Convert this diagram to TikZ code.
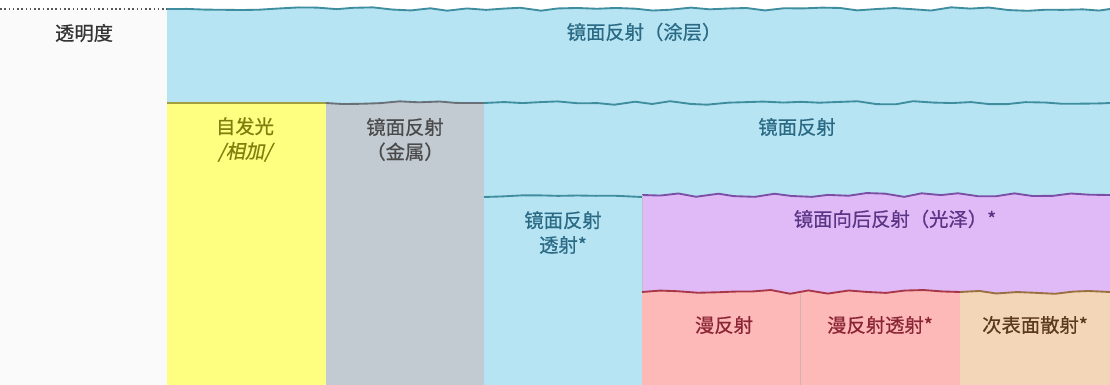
\documentclass[tikz,border=0pt]{standalone}
\usepackage{fontspec}
\setmainfont[FakeBold=0.6]{Noto Sans CJK SC}
\newfontfamily\slantcjk[FakeSlant=0.2,FakeBold=0.6]{Noto Sans CJK SC}
\usepackage{xcolor}
\usetikzlibrary{decorations.pathmorphing,positioning}

\definecolor{coatfill}{HTML}{B6E4F3}
\definecolor{coatline}{HTML}{3F8EA0}
\definecolor{coattext}{HTML}{2B6A85}
\definecolor{leftfill}{HTML}{FAFAFA}
\definecolor{emitfill}{HTML}{FEFE80}
\definecolor{emitline}{HTML}{A0A040}
\definecolor{emittext}{HTML}{7F7F10}
\definecolor{metalfill}{HTML}{C2CAD2}
\definecolor{metalline}{HTML}{6A7078}
\definecolor{metaltext}{HTML}{4A4A4A}
\definecolor{glossfill}{HTML}{DFBAF7}
\definecolor{glossline}{HTML}{7B4FA6}
\definecolor{glosstext}{HTML}{5B3585}
\definecolor{difffill}{HTML}{FDB8B8}
\definecolor{diffline}{HTML}{A83848}
\definecolor{difftext}{HTML}{8B2535}
\definecolor{sssfill}{HTML}{F3D5B7}
\definecolor{sssline}{HTML}{9A7040}
\definecolor{ssstext}{HTML}{5B3A1C}

\tikzset{
  wavedec/.style={decoration={random steps, segment length=14pt, amplitude=1.5pt}},
  txt/.style={font=\fontsize{14.5}{18.5}\selectfont, align=center, inner sep=0pt},
  sideline/.style={draw=black!25, line width=0.5pt}
}

% seed, fill, line colour, x left, x right, y top
\newcommand{\matband}[6]{%
  \pgfmathsetseed{#1}
  \fill[#2] (#4,385) -- (#4,#6) decorate[wavedec]{-- (#5,#6)} -- (#5,385) -- cycle;
  \pgfmathsetseed{#1}
  \draw[#3, line width=1.4pt, decorate, wavedec] (#4,#6) -- (#5,#6);
}

\begin{document}
\begin{tikzpicture}[x=0.75pt, y=-0.75pt]
  \useasboundingbox (0,0) rectangle (1110,385);

  \fill[leftfill] (0,9) rectangle (167,385);
  \draw[black!65, line width=1.2pt, dotted] (0,9) -- (167,9);

  \matband{11}{coatfill}{coatline}{167}{1110}{9}

  \fill[emitfill] (167,103) rectangle (326,385);
  \draw[emitline, line width=1.4pt] (167,103) -- (326,103);
  \draw[sideline] (326,103) -- (326,385);

  \matband{23}{metalfill}{metalline}{326}{484}{103}
  \draw[sideline] (484,103) -- (484,385);
  \matband{37}{coatfill}{coatline}{484}{1110}{103}
  \matband{41}{coatfill}{coatline}{484}{642}{197}
  \matband{53}{glossfill}{glossline}{642}{1110}{195}
  \draw[sideline] (642,195) -- (642,385);
  \matband{67}{difffill}{diffline}{642}{960}{292}
  \matband{71}{sssfill}{sssline}{960}{1110}{292}
  \draw[difffill!70!black!60, line width=0.5pt] (800,294) -- (800,385);

  \node[txt, text=black!80] (opacity) at (84,33) {透明度};
  \node[txt, text=coattext] (coat) at (644,32) {镜面反射（涂层）};
  \node[txt, text=emittext] (emit) at (245,139.5) {自发光\\{\slantcjk /相加/}};
  \node[txt, text=metaltext] (metal) at (405,139.5) {镜面反射\\（金属）};
  \node[txt, text=coattext] (spec) at (797,127) {镜面反射};
  \node[txt, text=coattext] (spectrans) at (563,232.5) {镜面反射\\透射*};
  \node[txt, text=glosstext] (gloss) at (895,219) {镜面向后反射（光泽）*};
  \node[txt, text=difftext] (diff) at (724,325) {漫反射};
  \node[txt, text=difftext] (difftrans) at (880,325) {漫反射透射*};
  \node[txt, text=ssstext] (sss) at (1035,325) {次表面散射*};
\end{tikzpicture}
\end{document}
